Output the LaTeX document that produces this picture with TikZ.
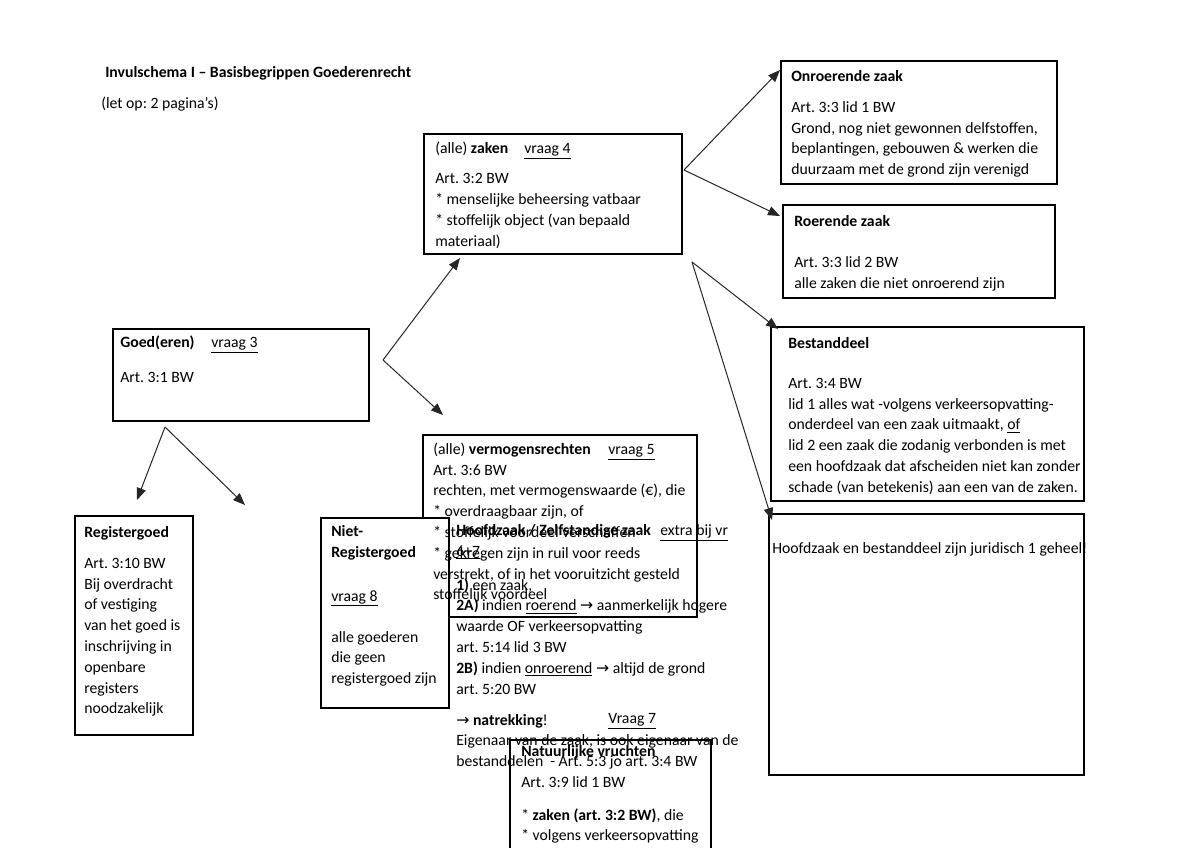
\documentclass[tikz,border=0pt]{standalone}
\usepackage{fontspec}
\setmainfont{Carlito}
\newfontfamily\dejavu{DejaVu Sans}
\usetikzlibrary{arrows.meta,fit}
\newcommand\arrw{{\dejavu\char"2192}}
\newcommand\fs{\fontsize{11.8pt}{15.6pt}\selectfont\frenchspacing}
\begin{document}
\begin{tikzpicture}[x=0.75pt,y=-0.75pt,
  box/.style={draw=black, line width=1.5pt, fill=white, inner sep=0pt},
  txt/.style={anchor=north west, inner sep=0pt, align=left, font=\fs},
  conn/.style={draw=black!85, line width=0.75pt, -{Triangle[length=9pt,width=7pt]}},
]
\useasboundingbox[fill=white] (0,0) rectangle (1200,848);

% boxes
\node[box, fit={(424,134) (682,254)}] (zaken) {};
\node[box, fit={(781,61) (1057,184)}] (onr) {};
\node[box, fit={(783,205) (1055,298)}] (roer) {};
\node[box, fit={(771,327) (1084,501)}] (best) {};
\node[box, fit={(769,514) (1084,775)}] (geheel) {};
\node[box, fit={(113,329) (369,421)}] (goed) {};
\node[box, fit={(75,516) (193,735)}] (reg) {};
\node[box, fit={(423,435) (697,617)}] (verm) {};
\node[box, fit={(321,518) (449,708)}] (niet) {};
\node[box, fit={(510,740) (711,870)}] (natuur) {};

% connectors
\coordinate (gv) at (383,360);
\coordinate (gz) at (460,258);
\coordinate (gvr) at (443,415);
\coordinate (gb) at (165,427);
\coordinate (gbr) at (137,500);
\coordinate (gbn) at (245,505);
\coordinate (zv) at (684,170);
\coordinate (zo) at (780,70);
\coordinate (zr) at (780,216);
\coordinate (zw) at (692,262);
\coordinate (zb) at (778,329);
\coordinate (zg) at (772,520);
\draw[conn] (gv) -- (gz);
\draw[conn] (gv) -- (gvr);
\draw[conn] (gb) -- (gbr);
\draw[conn] (gb) -- (gbn);
\draw[conn] (zv) -- (zo);
\draw[conn] (zv) -- (zr);
\draw[conn] (zw) -- (zb);
\draw[conn] (zw) -- (zg);

% texts
\node[txt] (title) at (105,62.5) {\strut\textbf{Invulschema I – Basisbegrippen Goederenrecht}};
\node[txt] (letop) at (101,93.5) {\strut(let op: 2 pagina’s)};

\node[txt] (zakentxt) at (435,138.5) {\strut(alle) \textbf{zaken}\\[7.3pt] Art. 3:2 BW\\ * menselijke beheersing vatbaar\\ * stoffelijk object (van bepaald\\ materiaal)};
\node[txt] (vr4) at (524,138.5) {\strut\underline{vraag 4}};

\node[txt] (onrtxt) at (791,66.5) {\strut\textbf{Onroerende zaak}\\[7.6pt] Art. 3:3 lid 1 BW\\ Grond, nog niet gewonnen delfstoffen,\\ beplantingen, gebouwen \& werken die\\ duurzaam met de grond zijn verenigd};

\node[txt] (roertxt) at (794,211.5) {\strut\textbf{Roerende zaak}\\[15.2pt] Art. 3:3 lid 2 BW\\ alle zaken die niet onroerend zijn};

\node[txt] (besttxt) at (788,333.5) {\strut\textbf{Bestanddeel}\\[14.4pt] Art. 3:4 BW\\ lid 1 alles wat -volgens verkeersopvatting-\\ onderdeel van een zaak uitmaakt, \underline{of}\\ lid 2 een zaak die zodanig verbonden is met\\ een hoofdzaak dat afscheiden niet kan zonder\\ schade (van betekenis) aan een van de zaken.};

\node[txt] (geheeltxt) at (772,538.5) {\strut Hoofdzaak en bestanddeel zijn juridisch 1 geheel!};

\node[txt] (goedtxt) at (120,332.5) {\strut\textbf{Goed(eren)}\\[10.6pt] Art. 3:1 BW};
\node[txt] (vr3) at (211,332.5) {\strut\underline{vraag 3}};

\node[txt] (regtxt) at (84,522.5) {\strut\textbf{Registergoed}\\[7.6pt] Art. 3:10 BW\\ Bij overdracht\\ of vestiging\\ van het goed is\\ inschrijving in\\ openbare\\ registers\\ noodzakelijk};

\node[txt] (niettxt) at (331,521.5) {\strut\textbf{Niet-}\\ \textbf{Registergoed}\\[17.4pt] \underline{vraag 8}\\[15.2pt] alle goederen\\ die geen\\ registergoed zijn};

\node[txt] (vermtxt) at (433,439.5) {\strut(alle) \textbf{vermogensrechten}\\ Art. 3:6 BW\\ rechten, met vermogenswaarde (€), die\\ * overdraagbaar zijn, of\\ * stoffelijk voordeel verschaffen\\ * gekregen zijn in ruil voor reeds\\ verstrekt, of in het vooruitzicht gesteld\\ stoffelijk voordeel};
\node[txt] (vr5) at (608,439.5) {\strut\underline{vraag 5}};

\node[txt] (hoofdtxt) at (456,520.5) {\strut\textbf{Hoofdzaak / Zelfstandige zaak}\\ \underline{6+7}\\[9.9pt] \textbf{1)} een zaak,\\ \textbf{2A)} indien \underline{roerend} \arrw{} aanmerkelijk hogere\\ waarde OF verkeersopvatting\\ art. 5:14 lid 3 BW\\ \textbf{2B)} indien \underline{onroerend} \arrw{} altijd de grond\\ art. 5:20 BW\\[7.6pt] \arrw{} \textbf{natrekking}!\\ Eigenaar van de zaak, is ook eigenaar van de\\ bestanddelen \ - Art. 5:3 jo art. 3:4 BW};
\node[txt] (extra) at (660,520.5) {\strut\underline{extra bij vr}};
\node[txt] (vr7) at (608,708.5) {\strut\underline{Vraag 7}};

\node[txt] (natuurtxt) at (521,741.5) {\strut\textbf{Natuurlijke vruchten}\\[7.6pt] Art. 3:9 lid 1 BW\\[9pt] * \textbf{zaken (art. 3:2 BW)}, die\\ * volgens verkeersopvatting};
\end{tikzpicture}
\end{document}
